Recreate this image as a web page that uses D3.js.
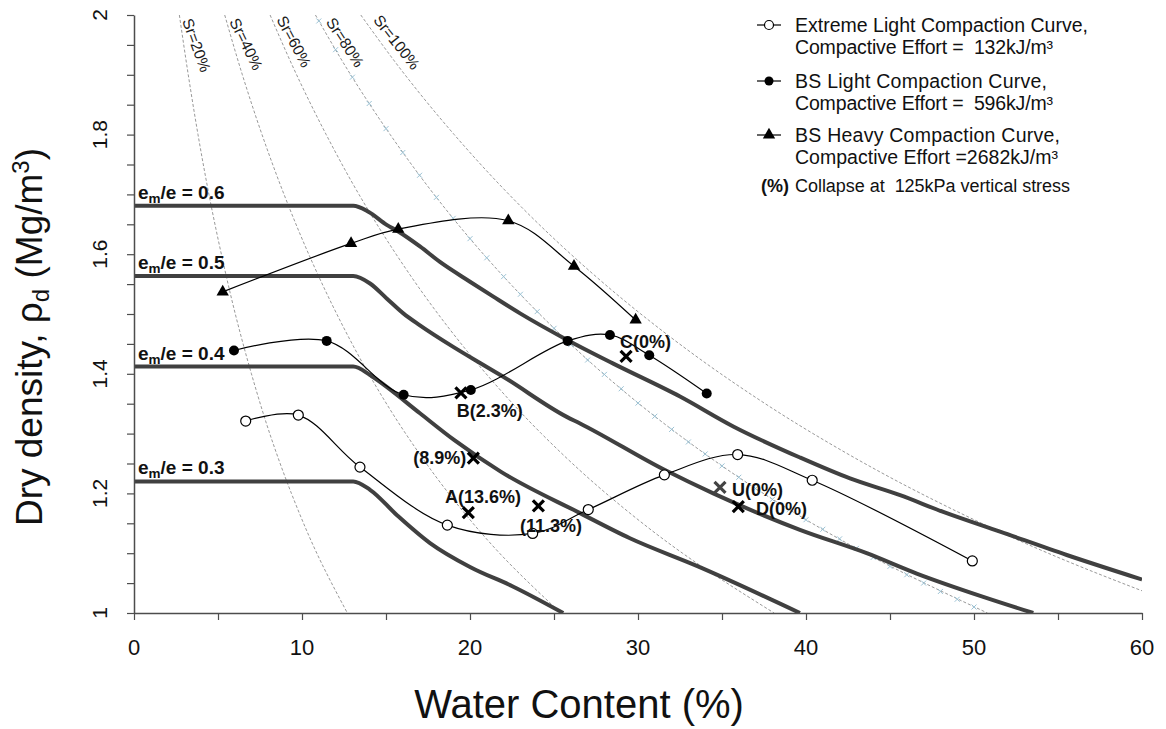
<!DOCTYPE html>
<html><head><meta charset="utf-8">
<script src="https://cdn.jsdelivr.net/npm/d3@7"></script>
<style>
body{margin:0;background:#fff;}
svg{display:block;font-family:"Liberation Sans",Arial,sans-serif;}
</style></head><body>
<svg id="chart" width="1166" height="729"></svg>
<script>
// ---------------- data ----------------
const xTicks = [0, 10, 20, 30, 40, 50, 60];
const xTickLabels = ["0", "10", "20", "30", "40", "50", "60"];
const yTicks = [1, 1.2, 1.4, 1.6, 1.8, 2];
const yTickLabels = ["1", "1.2", "1.4", "1.6", "1.8", "2"];

// Compaction curves (water content %, dry density Mg/m3)
const extremeW   = [6.65, 9.78, 13.45, 18.65, 23.73, 27.04, 31.57, 35.93, 40.37, 49.9];
const extremeRho = [1.321, 1.331, 1.244, 1.147, 1.133, 1.173, 1.231, 1.265, 1.222, 1.087];
const bsLightW   = [5.95, 11.47, 16.05, 20.05, 25.81, 28.33, 30.67, 34.09];
const bsLightRho = [1.439, 1.455, 1.365, 1.373, 1.455, 1.465, 1.431, 1.367];
const bsHeavyW   = [5.28, 12.92, 15.73, 22.28, 26.19, 29.86];
const bsHeavyRho = [1.537, 1.618, 1.642, 1.656, 1.580, 1.490];

// Collapse test specimens
const collapseText   = ["B(2.3%)", "C(0%)", "(8.9%)", "A(13.6%)", "(11.3%)", "U(0%)", "D(0%)"];
const collapseW      = [19.46, 29.29, 20.2, 19.9, 24.07, 34.88, 35.97];
const collapseRho    = [1.368, 1.429, 1.259, 1.168, 1.179, 1.210, 1.178];
const collapseLabelW   = [19.21, 28.93, 16.62, 18.51, 22.98, 35.6, 37.02];
const collapseLabelRho = [1.327, 1.443, 1.250, 1.1845, 1.136, 1.195, 1.164];

// em/e = const lines
const emLabels = ["0.6", "0.5", "0.4", "0.3"];
const em06W   = [0, 13.05, 13.95, 15.04, 15.73, 17.02, 18.21, 20.0, 21.39, 22.98, 25.76, 28.53, 32.5, 35.67, 39.64, 42.62, 45.6, 48.17, 51.55, 55.52, 60.0];
const em06Rho = [1.681, 1.681, 1.671, 1.649, 1.638, 1.613, 1.587, 1.554, 1.529, 1.501, 1.457, 1.417, 1.362, 1.312, 1.260, 1.225, 1.197, 1.169, 1.136, 1.097, 1.056];
const em05W   = [0, 13.05, 14.05, 15.04, 16.03, 17.02, 19.0, 20.6, 21.98, 25.76, 26.55, 31.6, 34.48, 39.64, 43.61, 46.59, 50.55, 53.53];
const em05Rho = [1.5635, 1.5635, 1.551, 1.526, 1.501, 1.481, 1.445, 1.418, 1.395, 1.328, 1.317, 1.239, 1.200, 1.139, 1.100, 1.066, 1.027, 1.0];
const em04W   = [0, 13.05, 14.05, 15.04, 17.02, 19.07, 21.85, 26.55, 29.52, 33.57, 39.64];
const em04Rho = [1.412, 1.412, 1.398, 1.378, 1.334, 1.289, 1.236, 1.167, 1.125, 1.078, 1.0];
const em03W   = [0, 13.05, 14.05, 15.64, 17.62, 20.0, 22.58, 25.55];
const em03Rho = [1.22, 1.22, 1.206, 1.164, 1.117, 1.077, 1.044, 1.0];

// Degree of saturation lines
const srLabels = ["Sr=20%", "Sr=40%", "Sr=60%", "Sr=80%", "Sr=100%"];
const srRho = [2.0, 1.9, 1.8, 1.7, 1.6, 1.5, 1.4, 1.3, 1.2, 1.1, 1.0];
const sr20W  = [2.70, 3.23, 3.81, 4.46, 5.20, 6.03, 6.99, 8.08, 9.37, 10.88, 12.70];
const sr40W  = [5.40, 6.45, 7.62, 8.93, 10.40, 12.07, 13.97, 16.17, 18.73, 21.76, 25.40];
const sr60W  = [8.10, 9.68, 11.44, 13.39, 15.60, 18.10, 20.96, 24.25, 28.10, 32.65, 38.10];
const sr80W  = [10.80, 12.90, 15.25, 17.86, 20.80, 24.14, 27.94, 32.34, 37.46, 43.53, 50.80];
const sr100W = [13.50, 16.13, 19.06, 22.32, 26.00, 30.17, 34.93, 40.42, 46.83, 54.41, 63.50];
const sr80MarkW   = [11, 12, 13, 14, 15, 16, 17, 18, 19, 20, 21, 22, 23, 24, 25, 26, 27, 28, 29, 30, 31, 32, 33, 34, 35, 36, 37, 38, 39, 40, 41, 42, 43, 44, 45, 46, 47, 48, 49, 50];
const sr80MarkRho = [1.990, 1.942, 1.896, 1.852, 1.810, 1.770, 1.732, 1.695, 1.660, 1.626, 1.594, 1.5625, 1.533, 1.504, 1.476, 1.449, 1.423, 1.399, 1.375, 1.351, 1.329, 1.307, 1.286, 1.266, 1.246, 1.227, 1.208, 1.190, 1.173, 1.156, 1.140, 1.124, 1.108, 1.093, 1.078, 1.064, 1.050, 1.036, 1.023, 1.010];

const legendLines = [
  ["Extreme Light Compaction Curve,", "Compactive Effort =  132kJ/m³"],
  ["BS Light Compaction Curve,", "Compactive Effort =  596kJ/m³"],
  ["BS Heavy Compaction Curve,", "Compactive Effort =2682kJ/m³"]
];
const legendNote = ["(%)", "Collapse at  125kPa vertical stress"];

// ---------------- drawing ----------------
const zip = (a, b) => a.map((v, i) => [v, b[i]]);
const svg = d3.select("#chart");
const x = d3.scaleLinear().domain([0, 60]).range([134, 1142]);
const y = d3.scaleLinear().domain([1, 2]).range([613, 15]);

svg.append("defs").append("clipPath").attr("id", "clip")
  .append("rect").attr("x", x(0)).attr("y", y(2)).attr("width", x(60) - x(0)).attr("height", y(1) - y(2));
const plot = svg.append("g").attr("clip-path", "url(#clip)");

// Sr lines
const srW = [sr20W, sr40W, sr60W, sr80W, sr100W];
const srLine = d3.line().x(d => x(d[0])).y(d => y(d[1])).curve(d3.curveMonotoneY);
srW.forEach(ws => {
  plot.append("path").datum(zip(ws, srRho)).attr("d", srLine)
    .attr("fill", "none").attr("stroke", "#999").attr("stroke-width", 1).attr("stroke-dasharray", "3,2");
});
// light blue markers on Sr=80%
plot.append("g").selectAll("path").data(zip(sr80MarkW, sr80MarkRho)).join("path")
  .attr("transform", d => `translate(${x(d[0])},${y(d[1])})`)
  .attr("d", "M-2.5,-2.5L2.5,2.5M-2.5,2.5L2.5,-2.5")
  .attr("stroke", "#9cc3d5").attr("stroke-width", 1);

// Sr labels
const srLabelPos = [[187, 19, 70], [234, 19, 64], [281, 17, 62], [330, 19, 57], [377, 17, 52]];
srLabels.forEach((t, i) => {
  const p = srLabelPos[i];
  svg.append("text").attr("transform", `translate(${p[0]},${p[1]}) rotate(${p[2]})`)
    .attr("dy", "0.35em").attr("font-size", 15.5).attr("fill", "#1a1a1a").text(t);
});

// em/e lines
const emW = [em06W, em05W, em04W, em03W];
const emRho = [em06Rho, em05Rho, em04Rho, em03Rho];
const emLine = d3.line().x(d => x(d[0])).y(d => y(d[1])).curve(d3.curveMonotoneX);
emW.forEach((ws, i) => {
  plot.append("path").datum(zip(ws, emRho[i])).attr("d", emLine)
    .attr("fill", "none").attr("stroke", "#404040").attr("stroke-width", 4).attr("stroke-linejoin", "round");
});
emLabels.forEach((t, i) => {
  const tx = svg.append("text").attr("x", x(0) + 4).attr("y", y(emRho[i][0]) - 7)
    .attr("font-size", 19).attr("font-weight", "bold").attr("fill", "#111");
  tx.append("tspan").text("e");
  tx.append("tspan").attr("font-size", 13.5).attr("dy", 4).text("m");
  tx.append("tspan").attr("dy", -4).text("/e = " + t);
});

// compaction curves
const cLine = d3.line().x(d => x(d[0])).y(d => y(d[1])).curve(d3.curveCatmullRom.alpha(0.5));
[[extremeW, extremeRho], [bsLightW, bsLightRho], [bsHeavyW, bsHeavyRho]].forEach(s => {
  svg.append("path").datum(zip(s[0], s[1])).attr("d", cLine)
    .attr("fill", "none").attr("stroke", "#000").attr("stroke-width", 1.2);
});
svg.append("g").selectAll("circle").data(zip(extremeW, extremeRho)).join("circle")
  .attr("cx", d => x(d[0])).attr("cy", d => y(d[1])).attr("r", 5)
  .attr("fill", "#fff").attr("stroke", "#000").attr("stroke-width", 1.2);
svg.append("g").selectAll("circle").data(zip(bsLightW, bsLightRho)).join("circle")
  .attr("cx", d => x(d[0])).attr("cy", d => y(d[1])).attr("r", 5).attr("fill", "#000");
const tri = d3.symbol().type(d3.symbolTriangle).size(66);
svg.append("g").selectAll("path").data(zip(bsHeavyW, bsHeavyRho)).join("path")
  .attr("transform", d => `translate(${x(d[0])},${y(d[1])})`).attr("d", tri).attr("fill", "#000");

// collapse crosses and labels
svg.append("g").selectAll("path").data(zip(collapseW, collapseRho)).join("path")
  .attr("transform", d => `translate(${x(d[0])},${y(d[1])})`)
  .attr("d", "M-5.5,-5.5L5.5,5.5M-5.5,5.5L5.5,-5.5")
  .attr("stroke", (d, i) => i === 5 ? "#444" : "#000").attr("stroke-width", 3.2);
collapseText.forEach((t, i) => {
  svg.append("text").attr("x", x(collapseLabelW[i])).attr("y", y(collapseLabelRho[i]))
    .attr("font-size", 18).attr("font-weight", "bold").attr("fill", "#111").text(t);
});

// axes
const axCol = "#4d4d4d";
const xAxis = svg.append("g").attr("transform", `translate(0,${y(1)})`)
  .call(d3.axisBottom(x).tickValues(d3.range(0, 61, 5)).tickSize(7).tickSizeOuter(0).tickFormat(""));
const yAxis = svg.append("g").attr("transform", `translate(${x(0)},0)`)
  .call(d3.axisLeft(y).tickValues(d3.range(0, 21).map(i => 1 + i * 0.05)).tickSize(7).tickSizeOuter(0).tickFormat(""));
[xAxis, yAxis].forEach(a => {
  a.select(".domain").attr("stroke", axCol).attr("stroke-width", 1.5);
  a.selectAll(".tick line").attr("stroke", axCol).attr("stroke-width", 1.2);
});
xTicks.forEach((v, i) => {
  svg.append("text").attr("x", x(v)).attr("y", 655).attr("text-anchor", "middle")
    .attr("font-size", 22).attr("fill", "#111").text(xTickLabels[i]);
});
yTicks.forEach((v, i) => {
  svg.append("text").attr("transform", `translate(107,${y(v)}) rotate(-90)`)
    .attr("text-anchor", "middle").attr("font-size", 21).attr("fill", "#111").text(yTickLabels[i]);
});

// axis titles
svg.append("text").attr("x", 579).attr("y", 718).attr("text-anchor", "middle")
  .attr("font-size", 40).attr("fill", "#111").text("Water Content (%)");
const yt = svg.append("text").attr("transform", "translate(42,337) rotate(-90)")
  .attr("text-anchor", "middle").attr("font-size", 37).attr("fill", "#111");
yt.append("tspan").text("Dry density, ρ");
yt.append("tspan").attr("font-size", 24).attr("dy", 7).text("d");
yt.append("tspan").attr("dy", -7).text(" (Mg/m");
yt.append("tspan").attr("font-size", 24).attr("dy", -13).text("3");
yt.append("tspan").attr("dy", 13).text(")");

// legend
const legY = [25, 81, 135];
const legLen = [[293, 258], [252, 258], [265, 263]];
const legG = svg.append("g").attr("font-size", 19.5).attr("fill", "#111");
legendLines.forEach((ls, i) => {
  legG.append("line").attr("x1", 757).attr("x2", 781).attr("y1", legY[i]).attr("y2", legY[i])
    .attr("stroke", "#000").attr("stroke-width", 1.2);
  if (i === 0) legG.append("circle").attr("cx", 769).attr("cy", legY[i]).attr("r", 4.5).attr("fill", "#fff").attr("stroke", "#000").attr("stroke-width", 1.2);
  if (i === 1) legG.append("circle").attr("cx", 769).attr("cy", legY[i]).attr("r", 4.5).attr("fill", "#000");
  if (i === 2) legG.append("path").attr("transform", `translate(769,${legY[i]})`).attr("d", tri).attr("fill", "#000");
  legG.append("text").attr("x", 795).attr("y", legY[i] + 6.5)
    .attr("textLength", legLen[i][0]).attr("lengthAdjust", "spacing").text(ls[0]);
  legG.append("text").attr("x", 795).attr("y", legY[i] + 28.5).style("white-space", "pre")
    .attr("textLength", legLen[i][1]).attr("lengthAdjust", "spacing").text(ls[1]);
});
legG.append("text").attr("x", 761).attr("y", 192).attr("font-weight", "bold").attr("font-size", 18).text(legendNote[0]);
legG.append("text").attr("x", 795).attr("y", 192).attr("font-size", 18).style("white-space", "pre")
  .attr("textLength", 275).attr("lengthAdjust", "spacing").text(legendNote[1]);
</script>
</body></html>
